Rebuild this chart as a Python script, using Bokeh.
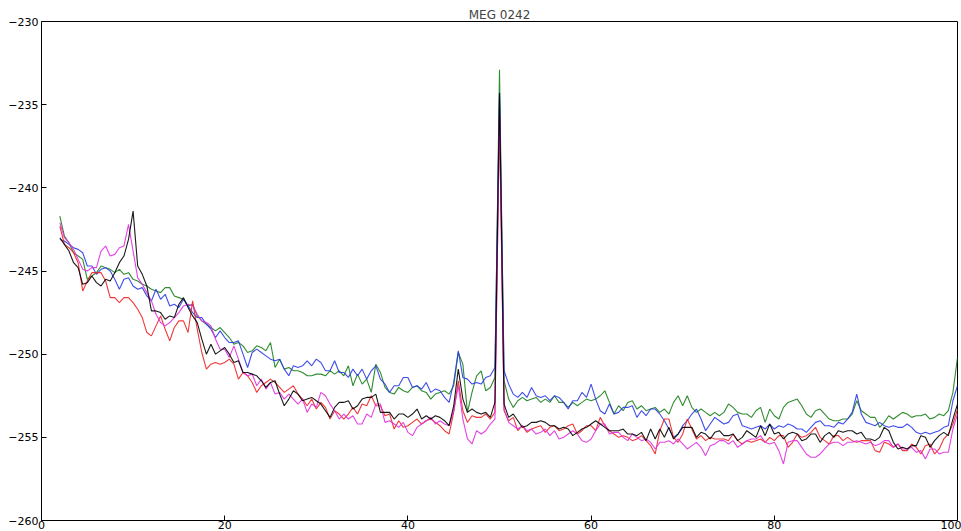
import numpy as np
from bokeh.plotting import figure
from bokeh.models import Range1d, ColumnDataSource, FixedTicker
from bokeh.embed import file_html
from bokeh.resources import INLINE

title_text = "MEG 0242"
freqs = np.arange(2.0, 100.01, 0.5)

green = [
    -241.7, -242.9, -243.3, -243.9, -244.1, -244.3, -245.5, -245.3, -245.1, -244.7,
    -244.8, -244.9, -245.1, -244.9, -245.2, -245.1, -245.5, -245.6, -245.8, -245.9,
    -246.1, -246.2, -246.3, -246.0, -246.0, -246.5, -246.6, -246.7, -247.1, -247.0,
    -247.7, -248.0, -248.2, -248.4, -248.6, -248.4, -248.7, -249.0, -249.4, -249.3,
    -249.5, -249.9, -249.8, -249.5, -249.6, -249.8, -249.3, -250.8, -250.3, -250.9,
    -250.8, -251.0, -251.0, -251.1, -251.3, -251.3, -251.2, -251.2, -251.3, -251.0,
    -251.2, -251.0, -251.3, -250.7, -251.9, -251.2, -251.8, -251.5, -252.3, -250.6,
    -251.1, -252.0, -252.3, -252.4, -252.0, -252.2, -252.3, -252.0, -251.9, -252.2,
    -252.3, -252.7, -252.4, -252.3, -252.2, -252.4, -251.9, -249.9, -250.6, -253.5,
    -252.3, -251.3, -251.0, -252.2, -252.0, -251.4, -232.9, -251.6, -252.7, -253.2,
    -252.8, -252.6, -252.8, -252.7, -252.6, -252.9, -252.7, -252.9, -252.5, -252.9,
    -252.9, -253.2, -252.9, -253.1, -252.9, -252.7, -252.8, -252.7, -252.5, -252.2,
    -252.9, -253.6, -253.1, -253.4, -252.9, -252.8, -253.3, -253.1, -253.4, -253.3,
    -253.2, -253.5, -253.3, -253.6, -252.9, -252.5, -253.1, -252.5, -253.2, -253.5,
    -253.3, -253.5, -253.7, -253.5, -253.7, -253.5, -253.0, -253.2, -253.5, -253.6,
    -253.6, -253.8, -253.4, -253.2, -254.1, -253.3, -253.7, -253.9, -253.2, -252.9,
    -252.8, -252.7, -253.1, -253.6, -253.8, -253.4, -253.3, -253.6, -253.9, -254.0,
    -254.0, -253.9, -253.9, -253.6, -252.8, -253.4, -253.6, -253.8, -253.8, -254.4,
    -254.1, -253.7, -253.9, -253.7, -253.5, -253.6, -253.8, -253.7, -253.7, -253.6,
    -253.9, -253.8, -253.6, -253.7, -253.4, -252.3, -250.2,
]

blue = [
    -243.1, -243.2, -243.4, -243.6, -243.7, -243.9, -244.7, -244.7, -245.2, -244.9,
    -244.8, -245.0, -245.5, -246.1, -245.5, -245.4, -245.9, -246.1, -246.0, -246.5,
    -246.8, -246.1, -246.7, -246.4, -247.1, -247.0, -247.2, -246.7, -247.1, -247.5,
    -247.8, -247.8, -248.2, -248.5, -249.0, -248.6, -249.0, -249.3, -249.3, -249.2,
    -250.0, -250.8, -249.9, -249.7, -249.9, -250.1, -250.3, -250.4, -250.3, -250.9,
    -251.3, -250.7, -250.8, -250.7, -250.4, -250.7, -250.3, -250.5, -251.0, -251.0,
    -250.4, -251.1, -251.1, -251.4, -250.9, -251.3, -250.9, -251.5, -251.0, -250.7,
    -251.5, -251.8, -252.3, -251.9, -251.9, -251.4, -251.4, -252.0, -251.9, -252.1,
    -251.7, -252.3, -252.1, -252.2, -252.6, -252.9, -251.7, -249.8, -251.4, -251.5,
    -251.8, -251.7, -251.8, -251.4, -251.3, -250.8, -234.3, -251.0, -251.8, -252.4,
    -252.6, -252.3, -252.6, -252.0, -252.5, -252.6, -252.5, -252.8, -252.5, -252.6,
    -252.9, -253.3, -252.8, -252.8, -252.3, -252.6, -251.8, -252.7, -253.4, -253.6,
    -253.0, -253.6, -253.5, -253.2, -253.2, -253.1, -253.8, -253.4, -253.7, -253.3,
    -253.3, -253.6, -254.0, -254.5, -255.0, -254.8, -254.3, -254.0, -253.6, -253.3,
    -253.9, -254.6, -254.2, -253.8, -254.0, -254.2, -254.1, -253.7, -253.6, -254.3,
    -254.4, -254.5, -254.4, -254.3, -254.5, -254.2, -254.5, -254.3, -254.4, -254.2,
    -254.3, -254.5, -254.5, -254.7, -254.4, -254.1, -254.0, -254.3, -254.3, -254.4,
    -254.1, -254.2, -253.9, -253.5, -252.4, -253.6, -254.1, -254.2, -254.3, -254.1,
    -254.3, -254.4, -254.3, -254.4, -254.4, -254.2, -254.4, -254.7, -254.8, -254.7,
    -254.8, -254.7, -254.6, -254.4, -254.3, -252.8, -251.9,
]

red = [
    -242.3, -243.4, -243.6, -243.9, -244.5, -246.2, -245.6, -245.1, -245.1, -245.1,
    -245.6, -246.6, -246.6, -246.9, -246.6, -246.6, -246.9, -247.3, -247.8, -248.7,
    -248.9, -248.3, -247.7, -248.5, -249.2, -248.4, -248.0, -248.0, -248.7, -246.8,
    -248.5, -249.9, -250.9, -250.6, -250.5, -250.6, -250.5, -250.3, -250.6, -251.5,
    -251.1, -251.3, -251.7, -252.3, -251.9, -251.7, -251.5, -251.7, -252.0, -252.3,
    -252.1, -251.9, -252.4, -252.7, -253.1, -252.7, -253.3, -252.9, -253.2, -253.9,
    -253.4, -253.6, -253.9, -253.6, -253.2, -253.6, -253.0, -253.1, -252.5, -253.1,
    -253.1, -253.7, -253.6, -254.5, -254.0, -254.4, -254.3, -254.1, -253.9, -254.2,
    -254.0, -253.9, -254.1, -254.3, -254.6, -254.8, -253.5, -251.6, -253.4, -254.1,
    -253.7, -253.8, -253.8, -253.6, -253.9, -253.5, -235.8, -253.4, -254.0, -253.8,
    -254.6, -254.3, -254.7, -254.5, -254.4, -254.3, -254.7, -254.4, -254.3, -254.6,
    -254.5, -254.3, -254.2, -254.8, -254.6, -254.3, -254.3, -254.6, -253.8, -254.3,
    -254.6, -254.8, -255.0, -254.9, -255.0, -255.2, -255.1, -254.9, -255.2, -255.5,
    -256.0, -254.6, -253.9, -253.9, -255.0, -255.3, -254.8, -253.9, -254.5, -255.1,
    -254.9, -255.2, -255.0, -255.1, -255.1, -255.1, -255.2, -254.8, -255.2, -255.4,
    -255.2, -255.3, -255.2, -255.1, -255.3, -255.0, -255.2, -254.9, -254.9, -255.6,
    -255.3, -254.8, -255.0, -254.9, -254.7, -254.4, -255.0, -255.2, -255.4, -254.9,
    -254.9, -255.2, -255.0, -255.2, -255.3, -255.2, -255.2, -255.2, -255.8, -255.9,
    -255.3, -255.4, -255.6, -255.4, -255.8, -255.8, -255.4, -255.6, -256.0, -255.5,
    -255.4, -256.0, -255.7, -255.1, -254.8, -254.2, -253.3,
]

magenta = [
    -242.1, -243.0, -243.3, -243.7, -244.3, -244.9, -245.0, -244.8, -244.8, -243.8,
    -243.5, -244.1, -244.0, -243.6, -243.5, -242.2, -243.8, -245.4, -245.8, -246.3,
    -246.8, -247.6, -248.1, -248.3, -248.1, -247.8, -247.5, -247.1, -247.0, -247.1,
    -247.6, -248.0, -248.1, -248.3, -249.1, -249.7, -249.7, -250.2, -249.5, -250.3,
    -251.1, -251.3, -251.2, -251.9, -251.5, -252.1, -251.7, -252.4, -252.3, -252.7,
    -252.4, -252.7, -253.0, -252.7, -253.5, -253.0, -253.2, -252.3, -252.5, -253.0,
    -253.4, -253.9, -253.6, -253.9, -253.7, -254.2, -254.2, -253.6, -253.8, -253.0,
    -253.0, -254.1, -254.0, -254.2, -254.4, -254.1, -254.7, -254.9, -254.4, -254.2,
    -254.0, -253.8, -254.2, -254.0, -254.2, -254.3, -253.4, -251.9, -253.9, -255.1,
    -255.4, -254.6, -254.8, -254.6, -254.2, -253.9, -235.5, -253.3, -254.1, -254.3,
    -254.5, -254.3, -254.6, -254.5, -254.8, -254.7, -254.5, -254.9, -254.6, -255.1,
    -255.0, -254.8, -254.6, -254.8, -255.2, -255.3, -255.1, -254.6, -254.2, -254.2,
    -254.8, -254.7, -254.7, -255.0, -255.2, -254.8, -255.0, -255.2, -255.1, -255.3,
    -255.7, -255.3, -255.3, -255.2, -255.4, -255.1, -255.4, -255.7, -255.5, -255.3,
    -255.6, -256.1, -255.5, -255.4, -255.2, -255.2, -255.4, -255.2, -255.6, -255.4,
    -255.2, -255.1, -255.1, -254.9, -255.3, -255.4, -255.3, -255.8, -256.6, -255.3,
    -255.2, -255.2, -255.6, -256.0, -256.2, -256.2, -256.0, -255.7, -255.4, -255.3,
    -255.3, -255.5, -255.3, -255.3, -255.2, -255.3, -255.4, -255.3, -255.5, -255.4,
    -255.2, -255.2, -255.6, -255.4, -255.7, -255.7, -255.6, -255.9, -255.8, -256.3,
    -255.7, -255.7, -256.0, -255.9, -255.9, -254.5, -253.6,
]

black = [
    -243.0, -243.4, -243.8, -244.5, -244.8, -245.8, -245.7, -245.3, -245.7, -245.9,
    -245.5, -245.6, -245.1, -244.5, -244.1, -243.1, -241.4, -244.7, -245.2, -245.9,
    -247.4, -247.4, -247.5, -247.9, -247.7, -247.8, -247.0, -246.6, -247.2, -247.7,
    -248.1, -249.1, -250.0, -249.4, -250.0, -249.8, -249.6, -250.0, -250.5, -250.4,
    -251.1, -251.1, -251.2, -251.3, -251.6, -252.0, -251.7, -251.6, -252.4, -253.1,
    -252.7, -252.2, -252.4, -252.8, -252.7, -252.6, -252.8, -253.0, -253.4, -253.8,
    -253.2, -252.9, -252.9, -252.8, -253.3, -253.1, -252.7, -252.6, -252.6, -252.4,
    -253.5, -253.5, -253.5, -253.9, -253.6, -253.6, -253.8, -253.6, -253.3, -253.9,
    -253.7, -253.9, -253.7, -253.8, -254.0, -254.3, -253.1, -250.9, -252.7, -253.5,
    -253.3, -253.5, -253.6, -253.5, -253.8, -252.9, -234.3, -253.0, -253.8, -253.6,
    -254.0, -254.4, -254.3, -254.1, -254.1, -254.0, -254.1, -254.3, -254.3, -254.5,
    -254.4, -254.5, -254.9, -254.7, -254.5, -254.4, -254.2, -254.0, -254.2, -254.4,
    -254.6, -254.6, -254.6, -254.5, -254.8, -254.8, -254.9, -254.7, -255.2, -254.5,
    -255.1, -254.5, -255.0, -254.4, -255.1, -254.8, -254.4, -254.4, -254.4, -255.0,
    -254.7, -254.8, -255.1, -254.7, -254.6, -254.9, -254.9, -254.8, -255.2, -255.0,
    -254.6, -254.8, -255.0, -254.3, -254.9, -254.2, -254.8, -254.7, -255.1, -254.8,
    -254.7, -254.8, -255.2, -255.1, -254.8, -254.8, -255.3, -254.9, -254.7, -255.0,
    -254.6, -254.7, -254.6, -254.6, -254.8, -254.7, -255.1, -255.1, -255.2, -255.0,
    -254.4, -254.6, -255.3, -255.7, -255.6, -255.7, -255.5, -255.5, -254.9, -255.0,
    -255.6, -255.2, -254.9, -254.7, -254.9, -253.9, -253.0,
]

series_names = ["green", "blue", "red", "magenta", "black"]
series_values = [green, blue, red, magenta, black]
series_colors = ["#1a801a", "#2a3ae8", "#ee2222", "#e030e0", "#000000"]

x_ticks = [0, 20, 40, 60, 80, 100]
x_tick_labels = ["0", "20", "40", "60", "80", "100"]
y_ticks = [-260, -255, -250, -245, -240, -235, -230]
y_tick_labels = ["\u2212260", "\u2212255", "\u2212250", "\u2212245", "\u2212240", "\u2212235", "\u2212230"]

for s in series_values:
    assert len(s) == len(freqs), len(s)

p = figure(width=961, height=531, output_backend="svg", toolbar_location=None,
           x_range=Range1d(0, 100), y_range=Range1d(-260, -230),
           min_border_left=41, min_border_right=4, min_border_top=21, min_border_bottom=0)

p.title.text = title_text
p.title.align = "center"
p.title.text_font = "DejaVu Sans"
p.title.text_font_size = "12px"
p.title.text_font_style = "normal"
p.title.standoff = 0
p.title.offset = 0

src = ColumnDataSource({"f": list(freqs), **{n: v for n, v in zip(series_names, series_values)}})
for n, c in zip(series_names, series_colors):
    p.line("f", n, source=src, line_color=c, line_width=1.1, line_alpha=0.9)

p.xgrid.visible = False
p.ygrid.visible = False
p.outline_line_color = "black"
p.outline_line_width = 1
p.background_fill_color = "white"
p.border_fill_color = "white"

for ax in (p.xaxis[0], p.yaxis[0]):
    ax.axis_line_color = None
    ax.major_tick_in = 5
    ax.major_tick_out = 0
    ax.minor_tick_line_color = None
    ax.major_tick_line_color = "black"
    ax.major_label_text_font = "DejaVu Sans"
    ax.major_label_text_font_size = "11px"
    ax.major_label_text_color = "black"

p.yaxis[0].major_label_standoff = 3
p.xaxis[0].major_label_standoff = 0
p.xaxis[0].ticker = FixedTicker(ticks=x_ticks)
p.xaxis[0].major_label_overrides = {t: l for t, l in zip(x_ticks, x_tick_labels)}
p.yaxis[0].ticker = FixedTicker(ticks=y_ticks)
p.yaxis[0].major_label_overrides = {t: l for t, l in zip(y_ticks, y_tick_labels)}

open("out.html", "w").write(file_html(p, INLINE))
